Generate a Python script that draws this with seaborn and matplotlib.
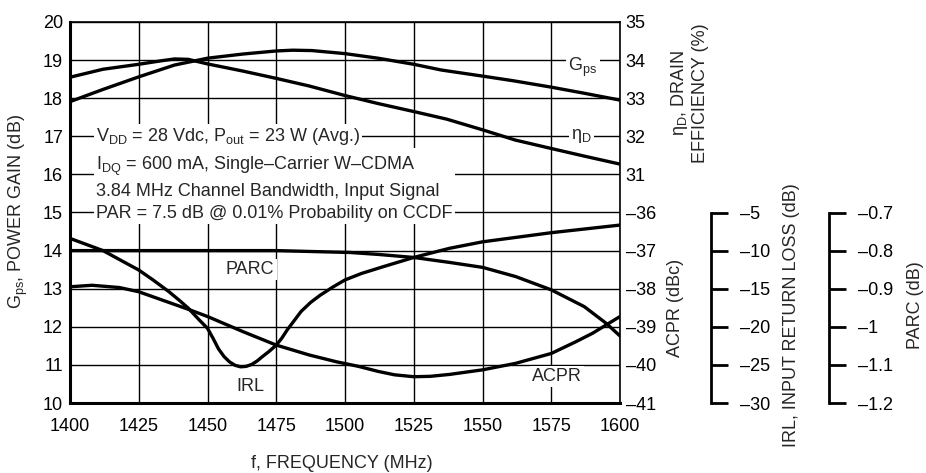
import matplotlib
matplotlib.use('Agg')
import matplotlib.pyplot as plt
import seaborn as sns

# values
freq_gps = [1400, 1412, 1425, 1438, 1450, 1463, 1475, 1481, 1488, 1500, 1512, 1525,
            1535, 1550, 1561, 1575, 1587, 1600]
gps = [17.91, 18.23, 18.56, 18.87, 19.05, 19.16, 19.24, 19.26, 19.25, 19.17, 19.05, 18.89,
       18.74, 18.58, 18.46, 18.29, 18.13, 17.95]

freq_eff = [1400, 1412, 1425, 1433, 1438, 1443, 1450, 1463, 1475, 1487, 1500, 1512,
            1525, 1537, 1550, 1562, 1575, 1587, 1600]
eff = [33.55, 33.76, 33.89, 33.98, 34.03, 34.02, 33.90, 33.71, 33.52, 33.32, 33.07, 32.86,
       32.65, 32.45, 32.17, 31.90, 31.68, 31.48, 31.27]

freq_acpr = [1400, 1408, 1418, 1425, 1443, 1450, 1463, 1475, 1487, 1497, 1505, 1512,
             1518, 1525, 1531, 1538, 1544, 1550, 1562, 1575, 1584, 1590, 1595, 1600]
acpr = [-37.95, -37.91, -37.97, -38.08, -38.54, -38.73, -39.13, -39.48, -39.74, -39.92,
        -40.04, -40.17, -40.26, -40.31, -40.30, -40.25, -40.19, -40.13, -39.96, -39.70,
        -39.39, -39.17, -38.95, -38.73]

freq_irl = [1400, 1412, 1425, 1430, 1436, 1440, 1443, 1447, 1450, 1452, 1454, 1456, 1458,
            1460, 1462, 1464, 1466, 1468, 1470, 1472.5, 1475, 1477, 1479, 1481.5, 1484,
            1487.5, 1491, 1495.5, 1500, 1506, 1514, 1525, 1538, 1550, 1575, 1600]
irl = [-8.4, -10.0, -12.55, -13.8, -15.4, -16.6, -17.55, -19.1, -20.2, -21.5, -22.9,
       -23.9, -24.6, -25.05, -25.25, -25.2, -24.95, -24.5, -23.9, -23.2, -22.4, -21.5,
       -20.4, -19.2, -18.0, -16.8, -15.85, -14.8, -13.85, -13.0, -12.1, -10.9, -9.7,
       -8.85, -7.65, -6.65]

freq_parc = [1400, 1450, 1475, 1502, 1512, 1525, 1538, 1550, 1562, 1575, 1587, 1595, 1600]
parc = [-0.800, -0.800, -0.800, -0.805, -0.810, -0.818, -0.831, -0.844, -0.868, -0.903,
        -0.947, -0.991, -1.024]

x_ticks = [1400, 1425, 1450, 1475, 1500, 1525, 1550, 1575, 1600]
gps_ticks = list(range(10, 21))
eff_ticks = [31, 32, 33, 34, 35]
acpr_ticks = [-41, -40, -39, -38, -37, -36]
irl_ticks = [-30, -25, -20, -15, -10, -5]
parc_ticks = [-1.2, -1.1, -1.0, -0.9, -0.8, -0.7]
parc_labels = ['–1.2', '–1.1', '–1', '–0.9', '–0.8', '–0.7']

sns.set_theme(style='white')
plt.rcParams['font.family'] = ['Liberation Sans', 'DejaVu Sans']
plt.rcParams['mathtext.fontset'] = 'custom'
plt.rcParams['mathtext.rm'] = 'Liberation Sans'
plt.rcParams['mathtext.it'] = 'Liberation Sans'
plt.rcParams['axes.unicode_minus'] = False

FS = 13
LW = 2.4

fig = plt.figure(figsize=(9.26, 4.73), dpi=100)
ax = fig.add_axes([70 / 926, 1 - 403 / 473, 550 / 926, 381 / 473])


def dash(v):
    return ('–' + format(abs(v), 'g')) if v < 0 else format(v, 'g')


# main axis: Gps
ax.set_xlim(1400, 1600)
ax.set_ylim(10, 20)
ax.set_xticks(x_ticks)
ax.set_yticks(gps_ticks)
ax.grid(True, color='black', lw=1.0)
ax.set_axisbelow(True)
ax.tick_params(axis='both', length=0, labelsize=FS, colors='black')
ax.tick_params(axis='x', pad=11)
ax.tick_params(axis='y', pad=5)
for s in ['left', 'bottom']:
    ax.spines[s].set_linewidth(2.2)
for s in ['top', 'right']:
    ax.spines[s].set_linewidth(1.2)
for s in ax.spines.values():
    s.set_color('black')
sns.lineplot(x=freq_gps, y=gps, ax=ax, color='black', lw=LW)

# efficiency axis
ax_eff = ax.twinx()
ax_eff.set_ylim(25, 35)
ax_eff.set_yticks(eff_ticks)
sns.lineplot(x=freq_eff, y=eff, ax=ax_eff, color='black', lw=LW)

# ACPR axis
ax_acpr = ax.twinx()
ax_acpr.set_ylim(-41, -31)
ax_acpr.set_yticks(acpr_ticks)
ax_acpr.set_yticklabels([dash(v) for v in acpr_ticks])
sns.lineplot(x=freq_acpr, y=acpr, ax=ax_acpr, color='black', lw=LW)

for a in (ax_eff, ax_acpr):
    a.tick_params(axis='y', length=0, labelsize=FS, pad=4, colors='black')
    for s in a.spines.values():
        s.set_visible(False)

# IRL axis
ax_irl = ax.twinx()
ax_irl.set_ylim(-30, 20)
ax_irl.set_yticks(irl_ticks)
ax_irl.set_yticklabels([dash(v) for v in irl_ticks])
sns.lineplot(x=freq_irl, y=irl, ax=ax_irl, color='black', lw=LW)

# PARC axis
ax_parc = ax.twinx()
ax_parc.set_ylim(-1.2, -0.2)
ax_parc.set_yticks(parc_ticks)
ax_parc.set_yticklabels(parc_labels)
sns.lineplot(x=freq_parc, y=parc, ax=ax_parc, color='black', lw=LW)

for a, pos, lo, hi in ((ax_irl, 1.165, -30, -5), (ax_parc, 1.38, -1.2, -0.7)):
    for s in a.spines.values():
        s.set_visible(False)
    a.spines['right'].set_visible(True)
    a.spines['right'].set_position(('axes', pos))
    a.spines['right'].set_bounds(lo, hi)
    a.spines['right'].set_linewidth(2.0)
    a.spines['right'].set_color('black')
    a.tick_params(axis='y', direction='out', length=12, width=2.0, pad=9,
                  labelsize=FS, colors='black')

for a in (ax, ax_eff, ax_acpr, ax_irl, ax_parc):
    a.set_xlabel('')
    a.set_ylabel('')

# annotations inside the plot
box = dict(facecolor='white', edgecolor='none', pad=1.5)
ax.text(1409.5, 17.0, r'V$_{\mathrm{DD}}$ = 28 Vdc, P$_{\mathrm{out}}$ = 23 W (Avg.)',
        fontsize=FS, va='center', ha='left', bbox=box)
ax.text(1409.5, 15.64,
        'I$_{\\mathrm{DQ}}$ = 600 mA, Single–Carrier W–CDMA\n'
        '3.84 MHz Channel Bandwidth, Input Signal\n'
        'PAR = 7.5 dB @ 0.01% Probability on CCDF',
        fontsize=FS, va='center', ha='left', linespacing=1.4, bbox=box)
ax.text(1586.5, 18.8, r'G$_{\mathrm{ps}}$', fontsize=FS, ha='center', va='center', bbox=box)
ax.text(1586, 17.0, r'η$_{\mathrm{D}}$', fontsize=FS, ha='center', va='center', bbox=box)
ax.text(1465.5, 13.5, 'PARC', fontsize=FS, ha='center', va='center', bbox=box)
ax.text(1465.5, 10.43, 'IRL', fontsize=FS, ha='center', va='center', bbox=box)
ax.text(1577.2, 10.69, 'ACPR', fontsize=FS, ha='center', va='center', bbox=box)

# axis titles
fig.text(18 / 926, 1 - 212 / 473, r'G$_{\mathrm{ps}}$, POWER GAIN (dB)', fontsize=FS,
         rotation=90, ha='center', va='center')
fig.text(342 / 926, 1 - 463 / 473, 'f, FREQUENCY (MHz)', fontsize=FS,
         ha='center', va='center')
fig.text(689 / 926, 1 - 93 / 473, 'η$_{\\mathrm{D}}$, DRAIN\nEFFICIENCY (%)', fontsize=FS,
         rotation=90, ha='center', va='center', linespacing=1.1)
fig.text(676 / 926, 1 - 308 / 473, 'ACPR (dBc)', fontsize=FS,
         rotation=90, ha='center', va='center')
fig.text(791 / 926, 1 - 315 / 473, 'IRL, INPUT RETURN LOSS (dB)', fontsize=FS,
         rotation=90, ha='center', va='center')
fig.text(916 / 926, 1 - 305 / 473, 'PARC (dB)', fontsize=FS,
         rotation=90, ha='center', va='center')

fig.savefig('out.png', dpi=100)
